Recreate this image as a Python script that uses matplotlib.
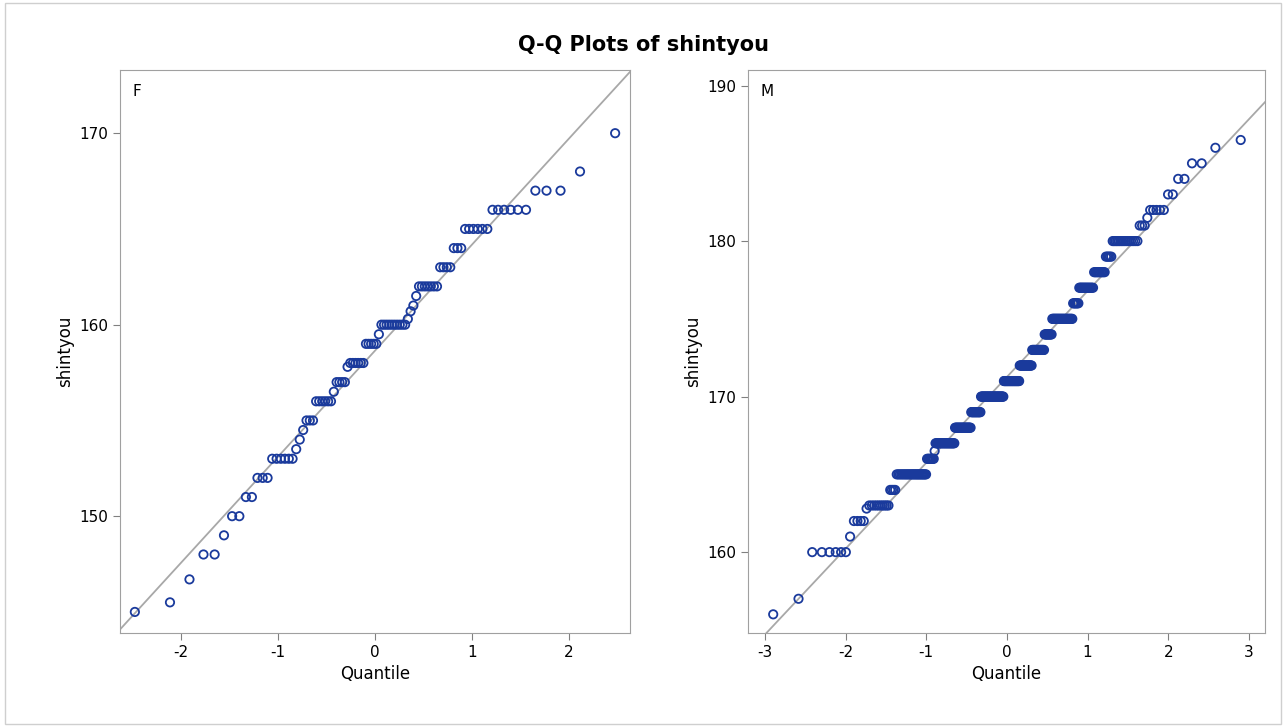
import matplotlib
matplotlib.use("Agg")
import matplotlib.pyplot as plt
import numpy as np
from statistics import NormalDist

# F group: value levels and counts
f_levels = [145, 145.5, 146.7, 148, 149, 150, 151, 152, 153, 153.5, 154, 154.5, 155, 156, 156.5,
            157, 157.8, 158, 159, 159.5, 160, 160.3, 160.7, 161, 161.5, 162, 163, 164, 165, 166,
            167, 168, 170]
f_counts = [1, 1, 1, 2, 1, 2, 2, 3, 6, 1, 1, 1, 3, 6, 1,
            4, 1, 6, 5, 1, 10, 1, 1, 1, 1, 7, 4, 3, 6, 6,
            3, 1, 1]
# M group
m_levels = [156, 157, 160, 161, 162, 162.8, 163, 164, 165, 166, 166.5, 167, 168, 169, 170, 171,
            172, 173, 174, 175, 176, 177, 178, 179, 180, 181, 181.5, 182, 183, 184, 185, 186, 186.5]
m_counts = [1, 1, 6, 1, 4, 1, 10, 4, 25, 8, 1, 24, 23, 15, 37, 26,
            20, 19, 11, 27, 7, 15, 10, 5, 15, 3, 1, 5, 2, 2, 2, 1, 1]

panels = [("F", f_levels, f_counts, (-2.63, 2.63), (143.9, 173.3), [-2, -1, 0, 1, 2], [150, 160, 170]),
          ("M", m_levels, m_counts, (-3.21, 3.20), (154.8, 191.0), [-3, -2, -1, 0, 1, 2, 3], [160, 170, 180, 190])]

fig = plt.figure(figsize=(12.86, 7.27), dpi=100)
fig.patches.append(plt.Rectangle((0.004, 0.004), 0.992, 0.992, transform=fig.transFigure,
                                 fill=False, edgecolor="#cfcfcf", lw=1))
fig.text(0.5, 0.938, "Q-Q Plots of shintyou", ha="center", va="center", fontsize=15, fontweight="bold")
rects = [[0.0933, 0.1293, 0.3966, 0.7744], [0.5817, 0.1293, 0.402, 0.7744]]
nd = NormalDist()
for rect, (name, lv, ct, xl, yl, xt, yt) in zip(rects, panels):
    ax = fig.add_axes(rect)
    vals = np.repeat(np.array(lv, float), ct)
    n = len(vals)
    q = np.array([nd.inv_cdf((i - 0.375) / (n + 0.25)) for i in range(1, n + 1)])
    mu, sd = vals.mean(), vals.std(ddof=1)
    xx = np.array(xl)
    ax.plot(xx, mu + sd * xx, color="#a8a8a8", lw=1.3, zorder=1)
    ax.scatter(q, vals, s=36, facecolors="none", edgecolors="#1a3a9c", linewidths=1.3, zorder=2)
    ax.set_xlim(*xl); ax.set_ylim(*yl)
    ax.set_xticks(xt); ax.set_yticks(yt)
    ax.set_xticklabels([str(t) for t in xt])
    ax.tick_params(labelsize=11, color="#808080", length=5)
    for s in ax.spines.values():
        s.set_color("#a0a0a0")
    ax.set_xlabel("Quantile", fontsize=12)
    ax.set_ylabel("shintyou", fontsize=12)
    ax.text(0.025, 0.975, name, transform=ax.transAxes, ha="left", va="top", fontsize=11)
fig.savefig("out.png", dpi=100)
